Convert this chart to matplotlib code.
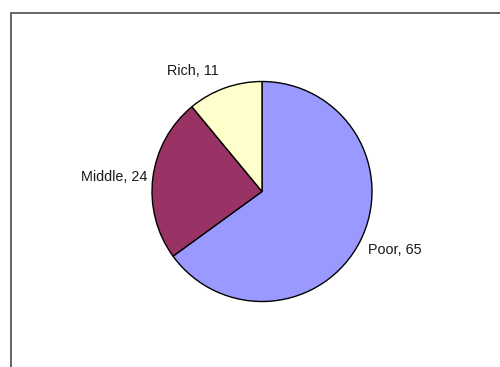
import numpy as np
import matplotlib.pyplot as plt
from matplotlib.patches import Rectangle

# income groups, shares in percent
labels = ['Poor', 'Middle', 'Rich']
shares = [65, 24, 11]
colors = ['#9999FF', '#993366', '#FFFFCC']

W, H = 500, 367
CX, CY, R = 262, H - 191.5, 110

plt.rcParams['font.family'] = ['Liberation Sans', 'DejaVu Sans']

fig = plt.figure(figsize=(W / 100, H / 100), dpi=100)
ax = fig.add_axes([0, 0, 1, 1])

# chart frame (runs off the right and bottom edges)
ax.add_patch(Rectangle((10.5, -20), 520, H - 12.5 + 20, fill=False,
                       edgecolor='#3a3a3a', linewidth=1.1))

wedges, _ = ax.pie(shares, colors=colors,
                   startangle=90, counterclock=False,
                   center=(CX, CY), radius=R,
                   wedgeprops=dict(edgecolor='black', linewidth=1.0),
                   frame=True)

# data labels outside each slice
label_dist = [1.1, 1.05, 1.16]
label_nudge = [(-2, -4), (0, 0), (0, 0)]
for w, name, val, d, (nx, ny) in zip(wedges, labels, shares, label_dist, label_nudge):
    mid = np.deg2rad((w.theta1 + w.theta2) / 2)
    x = CX + d * R * np.cos(mid) + nx
    y = CY + d * R * np.sin(mid) + ny
    ha = 'left' if np.cos(mid) > 0 else 'right'
    ax.text(x, y, f'{name}, {val}', ha=ha, va='center',
            fontsize=10.4, color='#1a1a1a')

ax.set_xlim(0, W)
ax.set_ylim(0, H)
ax.set_aspect('equal')
ax.axis('off')

fig.savefig('out.png', dpi=100)
